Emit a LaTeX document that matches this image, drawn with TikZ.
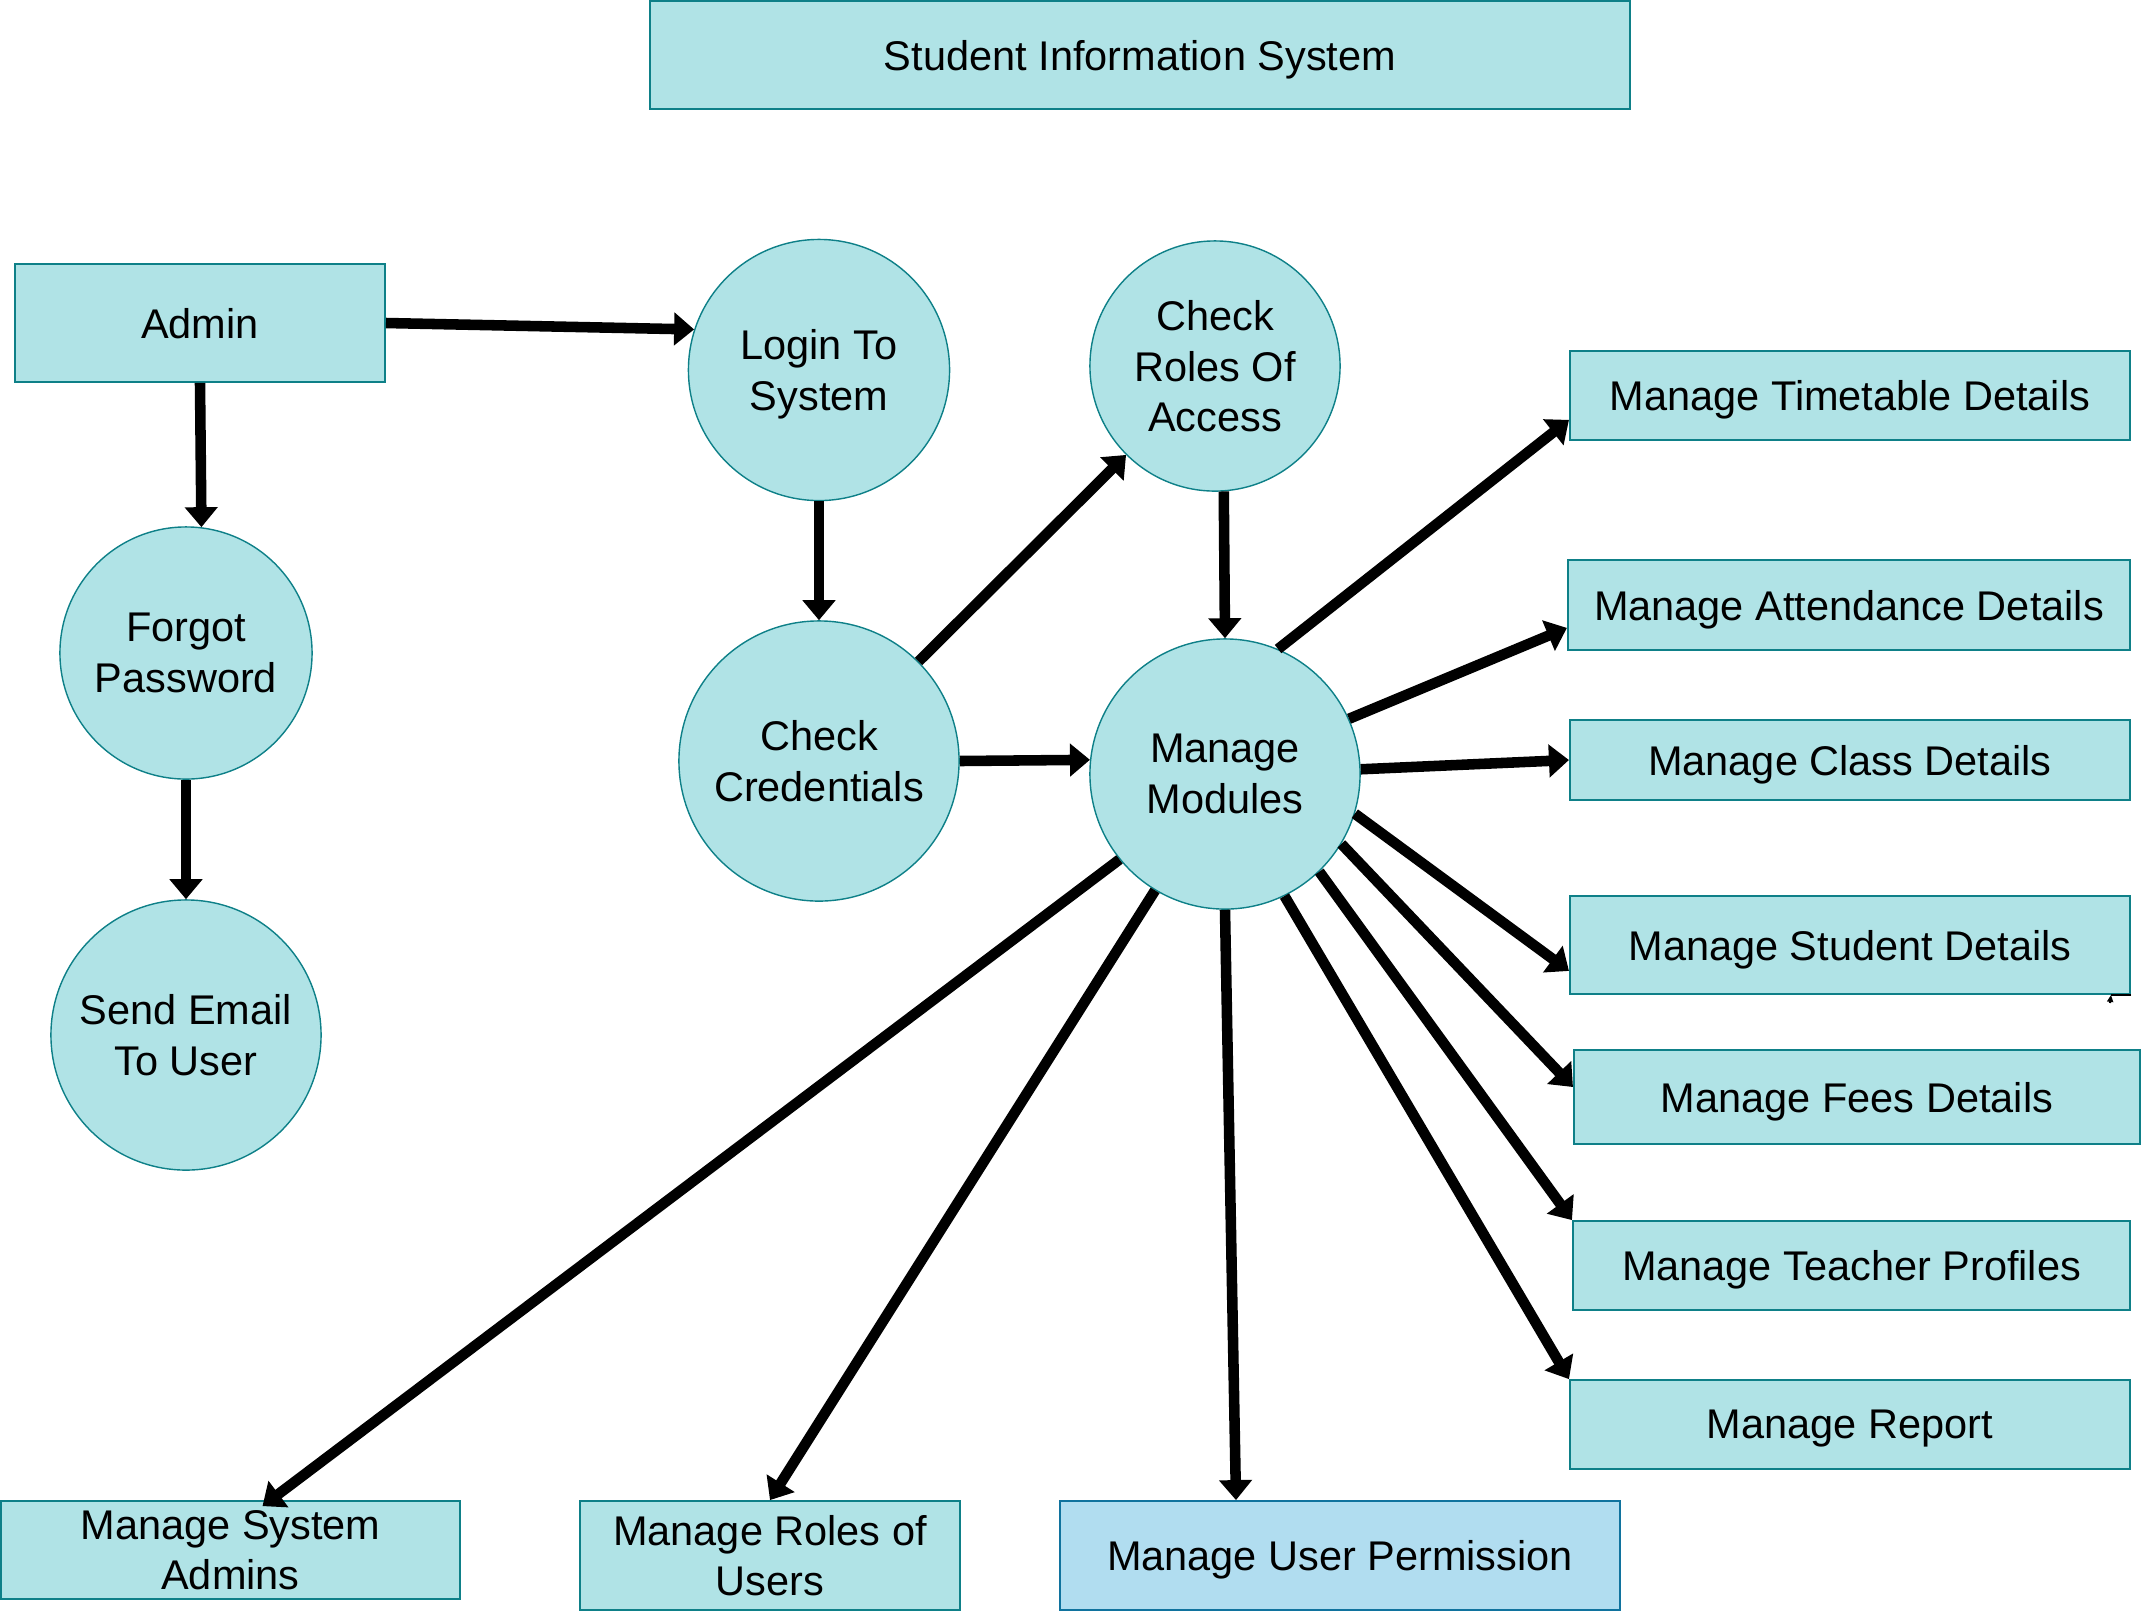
\documentclass[tikz,border=0pt]{standalone}
\usepackage{fontspec}
\setmainfont{Liberation Sans}
\usetikzlibrary{arrows.meta,calc}
\definecolor{boxfill}{HTML}{B0E3E6}
\definecolor{boxline}{HTML}{0E8088}
\definecolor{bluefill}{HTML}{B1DDF0}
\definecolor{blueline}{HTML}{10739E}
\begin{document}
\begin{tikzpicture}[x=0.01cm,y=-0.01cm,
  font=\fontsize{11.8}{14.4}\selectfont,
  every node/.append style={text depth=0pt},
  proc/.style={circle,draw=boxline,fill=boxfill,line width=0.4pt,inner sep=0pt,align=center},
  ent/.style={rectangle,draw=boxline,fill=boxfill,line width=0.5pt,inner sep=0pt,align=center},
  flow/.style={line width=3pt,-{Triangle[length=0.2cm,width=0.32cm]}}]
\useasboundingbox (0,0) rectangle (2141,1611);

% title
\node[ent,minimum width=9.80cm,minimum height=1.08cm] (title) at (1140,55) {Student Information System};

% left / middle
\node[ent,minimum width=3.70cm,minimum height=1.18cm] (admin) at (200,323) {Admin};
\node[proc,minimum size=2.52cm] (forgot) at (186,653) {Forgot\\Password};
\node[proc,minimum size=2.70cm] (send) at (186,1035) {Send Email\\To User};
\node[proc,minimum size=2.61cm] (login) at (819,370) {Login To\\System};
\node[proc,minimum size=2.80cm] (cc) at (819,761) {Check\\Credentials};
\node[proc,minimum size=2.50cm] (cr) at (1215,366) {Check\\Roles Of\\Access};
\node[proc,minimum size=2.70cm] (mm) at (1225,774) {Manage\\Modules};

% right boxes
\node[ent,minimum width=5.60cm,minimum height=0.89cm] (tt) at (1850,395.5) {Manage Timetable Details};
\node[ent,minimum width=5.62cm,minimum height=0.90cm] (att) at (1849,605) {Manage Attendance Details};
\node[ent,minimum width=5.60cm,minimum height=0.80cm] (cls) at (1850,760) {Manage Class Details};
\node[ent,minimum width=5.60cm,minimum height=0.98cm] (stu) at (1850,945) {Manage Student Details};
\node[ent,minimum width=5.66cm,minimum height=0.94cm] (fees) at (1857,1097) {Manage Fees Details};
\node[ent,minimum width=5.57cm,minimum height=0.89cm] (tch) at (1851.5,1265.5) {Manage Teacher Profiles};
\node[ent,minimum width=5.60cm,minimum height=0.89cm] (rep) at (1850,1424.5) {Manage Report};

% bottom boxes
\node[ent,minimum width=4.59cm,minimum height=0.98cm] (sa) at (230.5,1550) {Manage System\\Admins};
\node[ent,minimum width=3.80cm,minimum height=1.09cm] (ru) at (770,1555.5) {Manage Roles of\\Users};
\node[ent,draw=blueline,fill=bluefill,minimum width=5.60cm,minimum height=1.09cm] (up) at (1340,1555.5) {Manage User Permission};

% connectors
\draw[flow] (admin.east) -- (login.162);
\draw[flow] (admin.south) -- (forgot.83);
\draw[flow] (forgot.south) -- (send.north);
\draw[flow] (login.south) -- (cc.north);
\draw[flow] (cc.45) -- (cr.-135);
\draw[flow] (cc.east) -- (mm.174);
\draw[flow] (cr.-86) -- (mm.90);

\draw[flow] (mm.67) -- ($(tt.south west)+(0,-21)$);
\draw[flow] (mm.24) -- ($(att.south west)+(0,-23)$);
\draw[flow] (mm.2) -- (cls.west);
\draw[flow] (mm.-17) -- ($(stu.south west)+(0,-24)$);
\draw[flow] (mm.-31) -- ($(fees.west)+(0,-10)$);
\draw[flow] (mm.-46) -- (tch.north west);
\draw[flow] (mm.-64) -- (rep.north west);
\draw[flow] (mm.-90) -- ($(up.north)+(-104,0)$);
\draw[flow] (mm.-121) -- (ru.north);
\draw[flow] (mm.-141) -- ($(sa.north)+(32,6)$);

% small stray connector at the student box
\coordinate (stray) at (2110,1003);
\draw[line width=0.6pt] (stu.south east) -- ($(stu.south east)+(-20,0)$);
\draw[line width=0.6pt,-{Triangle[length=0.07cm,width=0.06cm]}] (stray) -- ($(stu.south east)+(-20,0)$);
\end{tikzpicture}
\end{document}
